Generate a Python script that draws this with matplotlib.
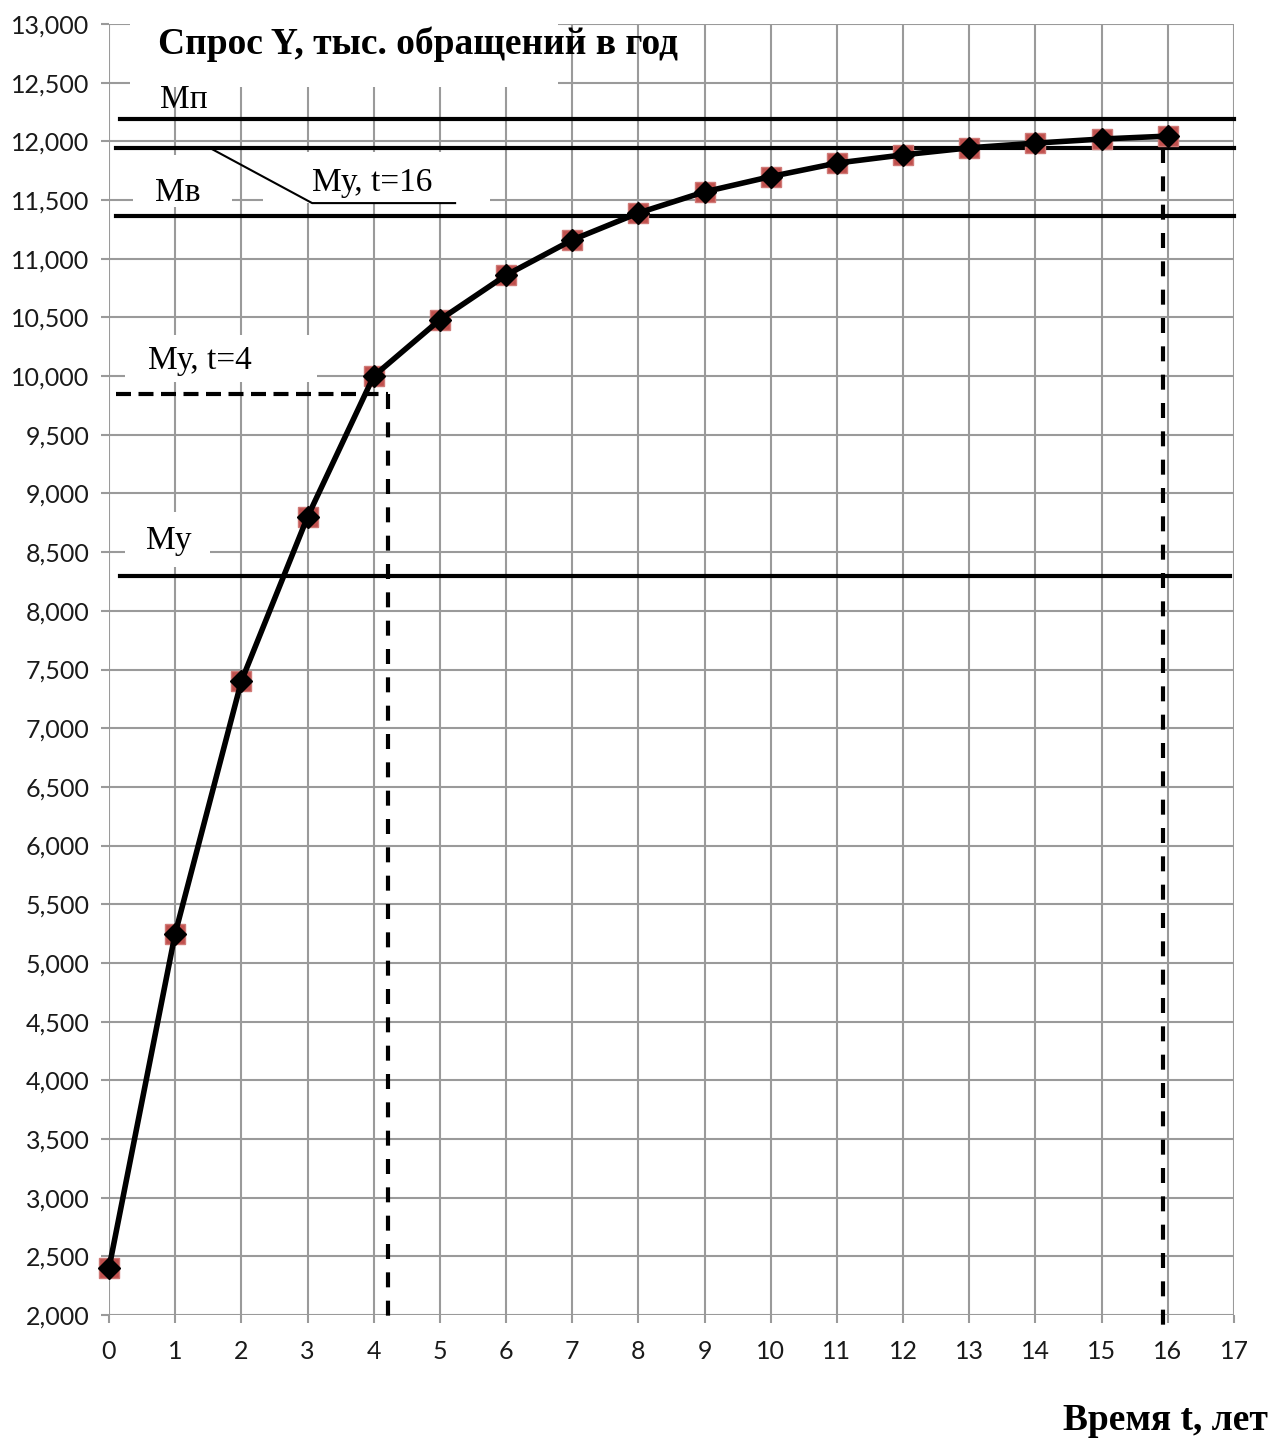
import matplotlib
matplotlib.use("Agg")
import matplotlib.pyplot as plt
from matplotlib.patches import Rectangle
from matplotlib.ticker import FuncFormatter, MultipleLocator

# ---- data ----
t = [0, 1, 2, 3, 4, 5, 6, 7, 8, 9, 10, 11, 12, 13, 14, 15, 16]
demand = [2400, 5250, 7400, 8800, 10000, 10480, 10860, 11160, 11390,
          11570, 11700, 11815, 11885, 11945, 11985, 12020, 12045]
level_mp = 12190      # Мп
level_my16 = 11945    # Му, t=16
level_mv = 11360      # Мв
level_my = 8300       # Му
my_t4_level = 9850    # Му, t=4 (dashed)
t4_cross = 4.22
t16_cross = 15.93

title = "Спрос Y, тыс. обращений в год"
xlabel = "Время t, лет"

W, H = 1272, 1441
fig = plt.figure(figsize=(W / 100, H / 100), dpi=100)
ax = fig.add_axes([109 / W, 1 - 1315 / H, (1234 - 109) / W, (1315 - 24) / H])

ax.set_xlim(0, 17)
ax.set_ylim(2000, 13000)
ax.xaxis.set_major_locator(MultipleLocator(1))
ax.yaxis.set_major_locator(MultipleLocator(500))
ax.yaxis.set_major_formatter(FuncFormatter(lambda v, p: f"{int(v):,}"))
for s in ax.spines.values():
    s.set_visible(False)
ax.grid(True, color="#9a9a9a", linewidth=1.5, zorder=0)
ax.set_axisbelow(True)
ax.tick_params(axis="both", length=6, width=1.5, color="#9a9a9a",
               labelsize=18, labelcolor="#1a1a1a")
ax.tick_params(axis="y", pad=8)
ax.tick_params(axis="x", pad=12)
for lab in ax.get_xticklabels() + ax.get_yticklabels():
    lab.set_fontfamily("Lato")

serif = "Liberation Serif"

# white label backgrounds (cover the grid)
def wbox(x0, x1, y0, y1):
    ax.add_patch(Rectangle((x0, y0), x1 - x0, y1 - y0, facecolor="white",
                           edgecolor="none", zorder=1.2))

wbox(0.32, 6.78, 12463, 13000)   # title
wbox(0.36, 1.86, 11440, 11883)   # Мв
wbox(2.33, 5.76, 11474, 11909)   # Му, t=16
wbox(0.24, 3.14, 9949, 10349)    # Му, t=4
wbox(0.24, 1.53, 8373, 8841)     # Му

ax.text(0.74, 12830, title, fontsize=27, fontweight="bold", family=serif,
        va="center", ha="left", zorder=2)

# horizontal levels
lw = 3.0
ax.axhline(level_mp, xmin=0.17 / 17, xmax=1.0, color="black", lw=lw, zorder=3, clip_on=False)
ax.axhline(level_my16, xmin=0.1 / 17, xmax=1.0, color="black", lw=lw, zorder=3, clip_on=False)
ax.axhline(level_mv, xmin=0.1 / 17, xmax=1.0, color="black", lw=lw, zorder=3, clip_on=False)
ax.axhline(level_my, xmin=0.17 / 17, xmax=16.94 / 17, color="black", lw=lw, zorder=3, clip_on=False)

# dashed guides
ax.plot([0.1, t4_cross], [my_t4_level, my_t4_level], color="black", lw=3,
        ls=(0, (3.6, 1.8)), zorder=3)
ax.plot([t4_cross, t4_cross], [my_t4_level, 1915], color="black", lw=3,
        ls=(0, (3.6, 3.2)), zorder=3, clip_on=False)
ax.plot([t16_cross, t16_cross], [level_my16, 1915], color="black", lw=3,
        ls=(0, (3.6, 3.2)), zorder=3, clip_on=False)

# leader for Му, t=16
ax.plot([1.52, 3.07, 5.23], [level_my16, 11474, 11474], color="black", lw=1.5, zorder=3)

# labels
fs = 24
ax.text(0.77, 12352, "Мп", fontsize=fs, family=serif, va="center", ha="left", zorder=2)
ax.text(0.70, 11559, "Мв", fontsize=fs, family=serif, va="center", ha="left", zorder=2)
ax.text(3.07, 11650, "Му, t=16", fontsize=fs, family=serif, va="center", ha="left", zorder=2)
ax.text(0.59, 10128, "Му, t=4", fontsize=fs, family=serif, va="center", ha="left", zorder=2)
ax.text(0.56, 8595, "Му", fontsize=fs, family=serif, va="center", ha="left", zorder=2)

# series
ax.plot(t, demand, ls="none", marker="s", markersize=15, color="#C0504D",
        markeredgecolor="#D07A77", markeredgewidth=1, zorder=4, clip_on=False)
ax.plot(t, demand, color="black", lw=4, marker="D", markersize=11,
        zorder=5, clip_on=False)

fig.text(1268 / W, 1 - 1420 / H, xlabel, fontsize=27, fontweight="bold", family=serif,
         ha="right", va="center")

fig.savefig("out.png", dpi=100, facecolor="white")
